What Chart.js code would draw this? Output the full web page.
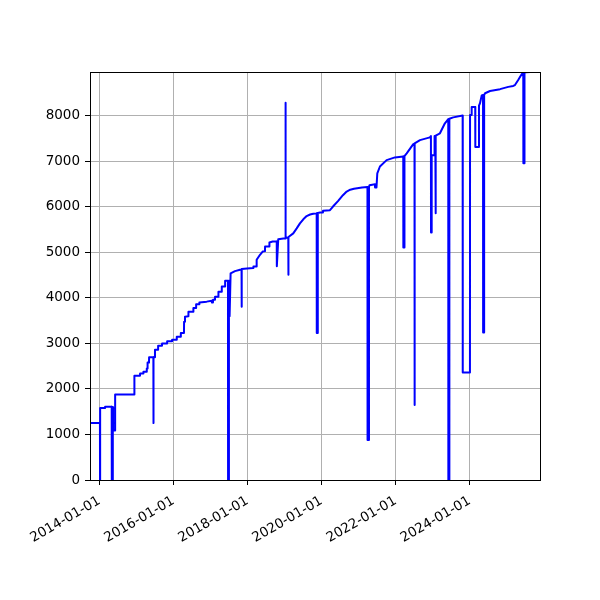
<!DOCTYPE html>
<html>
<head>
<meta charset="utf-8">
<script src="https://cdn.jsdelivr.net/npm/chart.js@4.4.1/dist/chart.umd.min.js"></script>
<style>
  html, body { margin: 0; padding: 0; background: #fff; }
  canvas { display: block; }
</style>
</head>
<body>
<canvas id="myChart" width="600" height="600"></canvas>
<script>
// Series: one date and one value per point
const dates = [
  "2013-09-30", "2014-01-06", "2014-01-07", "2014-01-08", "2014-02-25", "2014-02-26",
  "2014-05-02", "2014-05-03", "2014-05-12", "2014-05-13", "2014-05-15", "2014-05-16",
  "2014-06-04", "2014-06-05", "2014-12-11", "2014-12-12", "2015-02-05", "2015-02-06",
  "2015-03-10", "2015-03-11", "2015-04-12", "2015-04-13", "2015-04-20", "2015-04-21",
  "2015-05-05", "2015-05-06", "2015-06-17", "2015-06-18", "2015-06-19", "2015-07-02",
  "2015-07-03", "2015-08-02", "2015-08-03", "2015-09-10", "2015-09-11", "2015-10-30",
  "2015-10-31", "2015-12-18", "2015-12-19", "2016-02-02", "2016-02-03", "2016-03-13",
  "2016-03-14", "2016-04-14", "2016-04-15", "2016-04-24", "2016-05-27", "2016-05-28",
  "2016-07-15", "2016-07-16", "2016-08-11", "2016-08-12", "2016-09-12", "2016-09-13",
  "2016-11-24", "2017-01-13", "2017-01-14", "2017-01-25", "2017-01-26", "2017-02-14",
  "2017-02-15", "2017-03-19", "2017-03-20", "2017-04-21", "2017-04-22", "2017-05-24",
  "2017-05-25", "2017-06-22", "2017-06-23", "2017-07-01", "2017-07-02", "2017-07-07",
  "2017-07-08", "2017-07-18", "2017-08-30", "2017-10-19", "2017-11-03", "2017-11-04",
  "2017-11-05", "2017-12-27", "2018-02-27", "2018-02-28", "2018-03-31", "2018-04-01",
  "2018-05-04", "2018-05-30", "2018-06-22", "2018-06-23", "2018-08-04", "2018-08-05",
  "2018-09-06", "2018-10-16", "2018-10-17", "2018-10-31", "2018-12-20", "2019-01-10",
  "2019-01-11", "2019-01-12", "2019-02-07", "2019-02-08", "2019-02-09", "2019-03-28",
  "2019-05-01", "2019-06-02", "2019-07-05", "2019-08-07", "2019-09-10", "2019-10-11",
  "2019-11-14", "2019-11-15", "2019-11-24", "2019-11-25", "2019-12-17", "2020-01-15",
  "2020-01-16", "2020-03-24", "2020-04-23", "2020-06-11", "2020-07-30", "2020-09-05",
  "2020-10-10", "2020-11-16", "2021-02-03", "2021-03-29", "2021-03-30", "2021-04-12",
  "2021-04-13", "2021-04-18", "2021-06-11", "2021-06-12", "2021-06-26", "2021-07-04",
  "2021-07-30", "2021-10-04", "2021-12-25", "2022-03-17", "2022-03-18", "2022-03-28",
  "2022-03-29", "2022-04-20", "2022-06-24", "2022-07-06", "2022-07-07", "2022-07-08",
  "2022-08-29", "2022-12-05", "2022-12-15", "2022-12-16", "2022-12-22", "2022-12-23",
  "2023-01-19", "2023-01-20", "2023-01-27", "2023-01-28", "2023-02-03", "2023-03-14",
  "2023-05-02", "2023-06-04", "2023-06-05", "2023-06-14", "2023-06-15", "2023-07-23",
  "2023-10-24", "2023-10-25", "2024-01-04", "2024-01-05", "2024-01-20", "2024-01-21",
  "2024-02-25", "2024-02-26", "2024-04-01", "2024-04-02", "2024-04-12", "2024-04-29",
  "2024-05-12", "2024-05-13", "2024-05-22", "2024-05-23", "2024-06-01", "2024-07-20",
  "2024-10-27", "2025-01-16", "2025-03-06", "2025-03-23", "2025-04-24", "2025-05-28",
  "2025-06-13", "2025-06-14", "2025-06-24", "2025-06-25", "2025-07-10", "2025-08-18",
  "2025-11-25"
];

const values = [
  1250, 1250, 0, 1580, 1580, 1610,
  1610, 0, 0, 1600, 1600, 1090,
  1090, 1880, 1880, 2290, 2290, 2340,
  2340, 2380, 2380, 2450, 2450, 2580,
  2580, 2700, 2700, 1250, 2700, 2700,
  2860, 2860, 2950, 2950, 3000, 3000,
  3050, 3050, 3080, 3080, 3150, 3150,
  3230, 3230, 3480, 3590, 3600, 3700,
  3700, 3780, 3780, 3860, 3860, 3900,
  3920, 3940, 3900, 3900, 3960, 3960,
  4030, 4030, 4140, 4140, 4250, 4250,
  4380, 4380, 0, 0, 4380, 4380,
  3600, 4540, 4590, 4620, 4620, 3810,
  4640, 4650, 4660, 4690, 4690, 4840,
  4950, 5020, 5030, 5130, 5130, 5220,
  5240, 5240, 4700, 5290, 5310, 5310,
  8290, 5320, 5330, 4510, 5340, 5420,
  5530, 5640, 5730, 5800, 5835, 5850,
  5860, 3230, 3230, 5870, 5880, 5880,
  5920, 5930, 6010, 6130, 6260, 6340,
  6380, 6400, 6430, 6440, 880, 880,
  6440, 6480, 6500, 6430, 6430, 6740,
  6890, 7030, 7090, 7110, 5110, 5110,
  7120, 7180, 7380, 7390, 1650, 7400,
  7470, 7530, 7560, 5440, 5440, 7140,
  7140, 7560, 7560, 5860, 7570, 7620,
  7840, 7930, 0, 0, 7940, 7970,
  8010, 2360, 2360, 8020, 8020, 8200,
  8200, 7320, 7320, 8230, 8280, 8450,
  8460, 3240, 3240, 8460, 8500, 8550,
  8590, 8640, 8660, 8680, 8790, 8920,
  8940, 6960, 6960, 8950, 8960, 8965,
  8967
];

// Axis range and tick labels
const xStart = "2013-09-30";
const xEnd = "2025-11-25";
const yMax = 8967;
const xTickLabels = ["2014-01-01", "2016-01-01", "2018-01-01", "2020-01-01", "2022-01-01", "2024-01-01"];
const yTickValues = [0, 1000, 2000, 3000, 4000, 5000, 6000, 7000, 8000];

// Black box round the plot area
const frame = {
  id: "frame",
  afterDraw(chart) {
    const { ctx, chartArea: a } = chart;
    ctx.save();
    ctx.strokeStyle = "#000";
    ctx.lineWidth = 1;
    ctx.strokeRect(a.left + 0.5, a.top + 0.5, a.right - a.left, a.bottom - a.top);
    ctx.restore();
  }
};

Chart.defaults.font.family = "'DejaVu Sans', sans-serif";
Chart.defaults.font.size = 13.5;
Chart.defaults.color = "#000";

const points = dates.map((d, i) => ({ x: Date.parse(d), y: values[i] }));

new Chart(document.getElementById("myChart").getContext("2d"), {
  type: "line",
  data: {
    datasets: [{
      data: points,
      borderColor: "#0000ff",
      borderWidth: 2,
      borderJoinStyle: "round",
      pointRadius: 0,
      tension: 0,
      fill: false
    }]
  },
  options: {
    responsive: false,
    animation: false,
    devicePixelRatio: 1,
    layout: { padding: { left: 0, right: 60, top: 72, bottom: 0 } },
    plugins: {
      legend: { display: false },
      tooltip: { enabled: false }
    },
    scales: {
      x: {
        type: "linear",
        min: Date.parse(xStart),
        max: Date.parse(xEnd),
        afterBuildTicks: scale => {
          scale.ticks = xTickLabels.map(s => ({ value: Date.parse(s) }));
        },
        afterFit: scale => { scale.height = 120; },
        border: { display: false },
        grid: { color: "#b0b0b0", lineWidth: 1, tickColor: "#000", tickLength: 5 },
        ticks: {
          autoSkip: false,
          minRotation: 30,
          maxRotation: 30,
          padding: 8,
          callback: v => new Date(v).toISOString().slice(0, 10)
        }
      },
      y: {
        type: "linear",
        min: 0,
        max: yMax,
        afterBuildTicks: scale => {
          scale.ticks = yTickValues.map(v => ({ value: v }));
        },
        afterFit: scale => { scale.width = 90; },
        border: { display: false },
        grid: { color: "#b0b0b0", lineWidth: 1, tickColor: "#000", tickLength: 5 },
        ticks: {
          autoSkip: false,
          padding: 5,
          callback: v => String(v)
        }
      }
    }
  },
  plugins: [frame]
});
</script>
</body>
</html>
